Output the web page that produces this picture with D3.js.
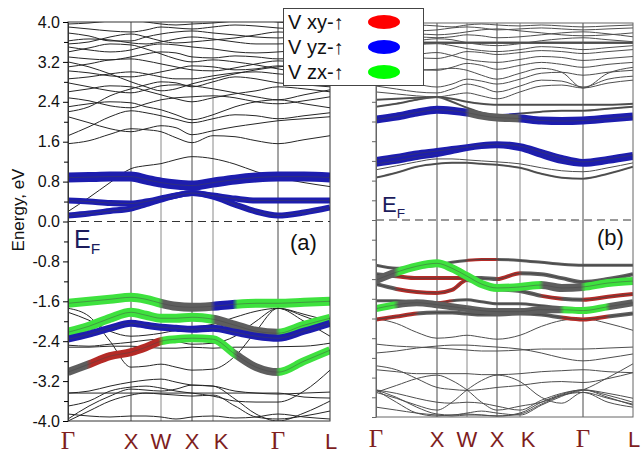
<!DOCTYPE html>
<html>
<head>
<meta charset="utf-8">
<script src="https://cdn.jsdelivr.net/npm/d3@7"></script>
<style>
body { margin: 0; background: #fff; }
svg { display: block; font-family: "Liberation Sans", Arial, sans-serif; }
</style>
</head>
<body>
<svg id="chart" width="644" height="453"></svg>
<script>
// ---- data ----
var kLabels = ["Γ", "X", "W", "X", "K", "Γ", "L"];
var kNodes = [0, 63, 93, 124, 145, 210, 262];
var kSamples = [0, 21, 42, 63, 78, 93, 108, 124, 145, 167, 188, 210, 236, 262];
var energyTicks = [4.0, 3.2, 2.4, 1.6, 0.8, 0.0, -0.8, -1.6, -2.4, -3.2, -4.0];
var minorTicks = [3.6, 2.8, 2.0, 1.2, 0.4, -0.4, -1.2, -2.0, -2.8, -3.6];
var legendNames = ["V xy-↑", "V yz-↑", "V zx-↑"];
var legendKeys = ["R", "B", "G"];

// panel (a): plain bands
var thinA = [
  [1.56, 1.62, 1.75, 1.86, 1.84, 1.80, 1.68, 1.58, 1.72, 1.70, 1.62, 1.56, 1.64, 1.72],
  [0.20, 0.48, 0.78, 1.06, 1.12, 1.16, 1.24, 1.30, 1.26, 1.15, 1.00, 0.88, 0.78, 0.70],
  [2.10, 1.98, 1.86, 1.80, 1.86, 1.92, 1.88, 1.74, 1.82, 1.90, 1.96, 2.02, 2.06, 2.10],
  [1.72, 1.90, 2.10, 2.22, 2.18, 2.12, 2.05, 1.98, 2.06, 2.14, 2.12, 2.06, 2.12, 2.18],
  [2.30, 2.36, 2.40, 2.38, 2.30, 2.24, 2.14, 2.04, 2.14, 2.30, 2.40, 2.44, 2.36, 2.28],
  [2.48, 2.42, 2.32, 2.28, 2.36, 2.44, 2.48, 2.50, 2.52, 2.48, 2.40, 2.36, 2.42, 2.50],
  [2.60, 2.66, 2.72, 2.70, 2.62, 2.54, 2.46, 2.40, 2.48, 2.56, 2.62, 2.70, 2.66, 2.60],
  [2.78, 2.70, 2.62, 2.58, 2.64, 2.72, 2.74, 2.72, 2.66, 2.58, 2.50, 2.44, 2.54, 2.64],
  [2.86, 2.90, 2.96, 3.00, 2.96, 2.90, 2.86, 2.86, 2.92, 2.98, 3.00, 2.96, 2.92, 2.88],
  [3.02, 2.98, 2.92, 2.90, 2.94, 3.00, 3.06, 3.12, 3.10, 3.04, 3.06, 3.12, 3.08, 3.04],
  [3.10, 3.16, 3.24, 3.26, 3.22, 3.16, 3.10, 3.04, 3.02, 3.08, 3.16, 3.22, 3.18, 3.14],
  [3.30, 3.26, 3.24, 3.30, 3.36, 3.40, 3.38, 3.30, 3.28, 3.32, 3.30, 3.26, 3.30, 3.34],
  [3.50, 3.44, 3.40, 3.44, 3.52, 3.56, 3.54, 3.50, 3.46, 3.40, 3.38, 3.40, 3.44, 3.48],
  [3.62, 3.66, 3.64, 3.58, 3.56, 3.60, 3.66, 3.70, 3.66, 3.60, 3.56, 3.56, 3.60, 3.64],
  [3.78, 3.72, 3.62, 3.62, 3.70, 3.76, 3.80, 3.82, 3.78, 3.74, 3.70, 3.68, 3.72, 3.76],
  [3.90, 3.86, 3.82, 3.80, 3.84, 3.90, 3.88, 3.86, 3.90, 3.94, 3.92, 3.88, 3.86, 3.90],
  [3.96, 3.98, 4.02, 4.04, 4.00, 3.96, 3.94, 3.96, 3.98, 4.02, 4.04, 4.00, 3.96, 3.94],
  [2.20, 2.30, 2.52, 2.66, 2.74, 2.80, 2.78, 2.70, 2.80, 2.90, 2.86, 2.78, 2.74, 2.70],
  [3.20, 3.10, 2.96, 2.80, 2.70, 2.62, 2.66, 2.76, 2.86, 2.96, 3.04, 3.10, 3.14, 3.18],
  [3.56, 3.60, 3.70, 3.76, 3.70, 3.62, 3.58, 3.60, 3.64, 3.68, 3.74, 3.80, 3.76, 3.70],
  [3.40, 3.48, 3.56, 3.54, 3.46, 3.36, 3.26, 3.20, 3.24, 3.20, 3.14, 3.06, 2.98, 2.94],
  [-1.74, -1.90, -2.40, -2.92, -2.90, -2.86, -2.92, -2.98, -2.96, -2.70, -2.20, -1.74, -1.90, -2.10],
  [-2.48, -2.50, -2.46, -2.42, -2.38, -2.36, -2.40, -2.46, -2.44, -2.30, -2.00, -1.74, -2.00, -2.30],
  [-2.52, -2.52, -2.50, -2.50, -2.52, -2.54, -2.54, -2.52, -2.54, -2.52, -2.52, -2.51, -2.50, -2.44],
  [-3.44, -3.40, -3.30, -3.22, -3.18, -3.16, -3.22, -3.28, -3.30, -3.40, -3.44, -3.46, -3.44, -3.42],
  [-3.44, -3.44, -3.44, -3.44, -3.44, -3.44, -3.44, -3.44, -3.44, -3.44, -3.44, -3.44, -3.52, -3.54],
  [-3.96, -3.70, -3.50, -3.36, -3.38, -3.40, -3.36, -3.28, -3.30, -3.56, -3.86, -4.00, -3.84, -3.60],
  [-4.00, -3.80, -3.60, -3.48, -3.44, -3.46, -3.48, -3.50, -3.48, -3.70, -3.92, -3.96, -3.90, -3.80],
  [-3.86, -3.90, -3.92, -3.90, -3.90, -3.92, -3.96, -3.92, -3.90, -3.94, -3.92, -3.86, -3.92, -3.96],
  [-3.70, -3.60, -3.40, -3.32, -3.30, -3.34, -3.40, -3.44, -3.50, -3.60, -3.62, -3.62, -3.40, -2.98],
  [-1.82, -1.98, -2.20, -2.30, -2.28, -2.24, -2.18, -2.12, -2.06, -1.92, -1.80, -1.74, -1.86, -2.00]
];

// panel (a): projected (fat) bands, energies and orbital character per segment
var fatA = [
  [-3.02, -2.86, -2.70, -2.62, -2.52, -2.40, -2.36, -2.34, -2.36, -2.66, -2.92, -3.02, -2.80, -2.58],
  [-2.22, -2.10, -1.94, -1.82, -1.88, -1.94, -1.94, -1.92, -1.96, -2.08, -2.20, -2.24, -2.08, -1.94],
  [-2.36, -2.26, -2.14, -2.04, -2.08, -2.12, -2.14, -2.16, -2.14, -2.22, -2.30, -2.34, -2.20, -2.04],
  [-1.64, -1.60, -1.56, -1.52, -1.56, -1.64, -1.70, -1.72, -1.70, -1.66, -1.64, -1.64, -1.62, -1.60],
  [0.12, 0.16, 0.21, 0.26, 0.35, 0.44, 0.52, 0.57, 0.50, 0.34, 0.20, 0.12, 0.18, 0.28],
  [0.42, 0.40, 0.37, 0.36, 0.40, 0.46, 0.52, 0.57, 0.52, 0.46, 0.42, 0.42, 0.42, 0.42],
  [0.88, 0.89, 0.90, 0.90, 0.84, 0.78, 0.74, 0.72, 0.78, 0.84, 0.88, 0.90, 0.90, 0.88]
];
var fatCharA = ["YRRRRGGGGYYGG", "GGGGGGGGYYYGG", "BBBBBBBBBBBBB", "GGGGGYYYBGGGG",
                "BBBBBBBBBBBBB", "BBBBBBBBBBBBB", "BBBBBBBBBBBBB"];
var fatWeightA = [8, 9, 7, 9, 6, 6, 10];

// panel (b): plain bands
var thinB = [
  [2.60, 2.56, 2.52, 2.50, 2.54, 2.58, 2.52, 2.46, 2.60, 2.72, 2.74, 2.68, 2.78, 2.84],
  [2.72, 2.66, 2.60, 2.58, 2.66, 2.76, 2.70, 2.60, 2.72, 2.84, 2.82, 2.70, 2.86, 2.92],
  [2.90, 2.84, 2.76, 2.70, 2.76, 2.86, 2.82, 2.76, 2.86, 2.98, 3.00, 2.94, 3.00, 3.04],
  [3.00, 3.02, 3.04, 3.06, 3.08, 3.04, 2.94, 2.86, 2.98, 3.08, 3.00, 2.68, 2.98, 3.10],
  [3.16, 3.12, 3.06, 3.04, 3.10, 3.18, 3.14, 3.06, 3.14, 3.20, 3.16, 3.10, 3.16, 3.20],
  [3.26, 3.30, 3.36, 3.40, 3.34, 3.26, 3.22, 3.20, 3.26, 3.32, 3.30, 3.24, 3.28, 3.32],
  [3.40, 3.36, 3.30, 3.28, 3.34, 3.42, 3.40, 3.36, 3.40, 3.44, 3.42, 3.38, 3.42, 3.46],
  [3.50, 3.52, 3.56, 3.58, 3.54, 3.48, 3.44, 3.42, 3.46, 3.52, 3.50, 3.46, 3.50, 3.54],
  [3.62, 3.60, 3.64, 3.68, 3.66, 3.60, 3.56, 3.54, 3.58, 3.64, 3.68, 3.70, 3.66, 3.62],
  [3.68, 3.70, 3.72, 3.70, 3.72, 3.76, 3.74, 3.70, 3.72, 3.76, 3.80, 3.82, 3.78, 3.72],
  [3.76, 3.78, 3.78, 3.76, 3.78, 3.82, 3.86, 3.88, 3.84, 3.80, 3.76, 3.74, 3.76, 3.80],
  [3.84, 3.82, 3.84, 3.86, 3.90, 3.92, 3.90, 3.86, 3.88, 3.90, 3.88, 3.86, 3.88, 3.90],
  [3.92, 3.94, 3.96, 3.94, 3.92, 3.96, 3.98, 3.96, 3.94, 3.96, 3.94, 3.92, 3.94, 3.96],
  [1.02, 1.10, 1.18, 1.24, 1.24, 1.22, 1.20, 1.18, 1.14, 1.06, 1.00, 0.98, 1.06, 1.16],
  [-2.00, -2.10, -2.28, -2.40, -2.38, -2.34, -2.38, -2.42, -2.34, -2.16, -2.04, -2.00, -2.10, -2.24],
  [-2.52, -2.56, -2.58, -2.60, -2.62, -2.64, -2.66, -2.66, -2.64, -2.62, -2.62, -2.62, -2.60, -2.58],
  [-2.70, -2.66, -2.60, -2.56, -2.54, -2.54, -2.56, -2.58, -2.62, -2.70, -2.80, -2.86, -2.80, -2.72],
  [-3.04, -3.08, -3.12, -3.12, -3.12, -3.12, -3.14, -3.14, -3.12, -3.08, -3.06, -3.04, -3.08, -3.10],
  [-3.50, -3.62, -3.76, -3.86, -3.70, -3.45, -3.26, -3.15, -3.28, -3.60, -3.72, -3.50, -3.70, -3.80],
  [-3.50, -3.36, -3.22, -3.15, -3.26, -3.45, -3.70, -3.86, -3.78, -3.70, -3.56, -3.50, -3.62, -3.74],
  [-3.45, -3.70, -3.92, -3.98, -3.96, -3.94, -3.96, -3.98, -3.92, -3.70, -3.54, -3.45, -3.56, -3.70],
  [-3.45, -3.60, -3.80, -3.94, -3.96, -3.92, -3.88, -3.92, -3.96, -3.76, -3.58, -3.45, -3.60, -3.76],
  [-3.45, -3.52, -3.62, -3.70, -3.72, -3.70, -3.72, -3.78, -3.86, -3.66, -3.52, -3.45, -3.52, -3.62],
  [-2.96, -3.04, -3.22, -3.40, -3.44, -3.46, -3.44, -3.40, -3.36, -3.30, -3.28, -3.30, -3.22, -3.10],
  [-3.80, -3.86, -3.92, -3.96, -3.98, -3.96, -3.96, -3.98, -3.94, -3.74, -3.56, -3.45, -3.20, -2.92]
];

// panel (b): projected (fat) bands
var fatB = [
  [3.60, 3.60, 3.60, 3.60, 3.60, 3.60, 3.60, 3.60, 3.60, 3.60, 3.60, 3.60, 3.60, 3.60],
  [2.30, 2.36, 2.44, 2.50, 2.40, 2.28, 2.18, 2.13, 2.16, 2.20, 2.22, 2.22, 2.26, 2.30],
  [2.44, 2.46, 2.48, 2.50, 2.46, 2.40, 2.36, 2.34, 2.34, 2.34, 2.34, 2.34, 2.34, 2.36],
  [2.04, 2.10, 2.18, 2.24, 2.22, 2.18, 2.12, 2.08, 2.06, 2.02, 2.01, 2.02, 2.06, 2.10],
  [0.86, 0.96, 1.08, 1.14, 1.16, 1.16, 1.14, 1.12, 1.06, 0.94, 0.86, 0.84, 0.94, 1.08],
  [1.14, 1.20, 1.28, 1.34, 1.40, 1.46, 1.50, 1.52, 1.46, 1.32, 1.20, 1.14, 1.20, 1.28],
  [1.22, 1.28, 1.35, 1.40, 1.44, 1.48, 1.52, 1.54, 1.50, 1.38, 1.26, 1.18, 1.24, 1.32],
  [-2.02, -1.96, -1.90, -1.88, -1.88, -1.90, -1.92, -1.92, -1.90, -1.92, -1.98, -2.02, -1.96, -1.90],
  [-1.64, -1.64, -1.66, -1.68, -1.64, -1.62, -1.66, -1.70, -1.70, -1.74, -1.78, -1.80, -1.76, -1.70],
  [-1.30, -1.40, -1.46, -1.48, -1.42, -1.22, -1.30, -1.40, -1.44, -1.54, -1.60, -1.62, -1.56, -1.50],
  [-1.10, -1.14, -1.18, -1.18, -1.18, -1.18, -1.18, -1.20, -1.08, -1.10, -1.18, -1.26, -1.20, -1.10],
  [-0.92, -0.98, -0.96, -0.92, -0.86, -0.82, -0.80, -0.80, -0.82, -0.86, -0.90, -0.92, -0.92, -0.92],
  [-1.80, -1.72, -1.68, -1.72, -1.76, -1.80, -1.84, -1.86, -1.86, -1.82, -1.82, -1.84, -1.76, -1.68],
  [-1.22, -1.06, -0.94, -0.88, -0.98, -1.14, -1.30, -1.38, -1.36, -1.32, -1.38, -1.36, -1.28, -1.24]
];
var fatCharB = ["YYYYYYYYYYYYY", "YYYYYYYBYYYYY", "YYYYYYYYYYYYY", "BBBBBYYYBBBBB",
                "YYYYYYYYYYYYY", "BBBBBBBBBBBBB", "BBBBBBBBBBBBB", "RRYYYYYYYYRRY",
                "YYRRYYYYYYYYY", "YRRRRYYYYRYRR", "YRRRRYYRYYYYY", "YYYYYRRYYYYYY",
                "GYYYYYYYYYGGY", "YGGGGGGGGYYGG"];
var fatWeightB = [2.5, 2, 2, 8, 2, 6, 6, 4, 3, 4, 4, 3, 7, 8];

// ---- drawing ----
var charColor = { R: "#b52a26", B: "#1d1dae", G: "#3ee23e", Y: "#5e5e5e" };
var legendColor = { R: "#ff0000", B: "#0000ff", G: "#00ff00" };
var svg = d3.select("#chart");
var defs = svg.append("defs");

function drawPanel(name, xr, top, bottom, thin, fat, chars, weights, thinColor) {
  var x = d3.scaleLinear().domain(kNodes).range(xr);
  var y = d3.scaleLinear().domain([-4, 4]).range([bottom, top]);
  var g = svg.append("g").attr("class", "panel-" + name);

  defs.append("clipPath").attr("id", "clip-" + name)
    .append("rect")
      .attr("x", xr[0]).attr("y", top)
      .attr("width", xr[xr.length - 1] - xr[0]).attr("height", bottom - top);

  // high symmetry lines
  g.selectAll("line.ksym")
    .data(kNodes.slice(1, -1)).enter()
    .append("line")
      .attr("class", "ksym")
      .attr("x1", d => x(d)).attr("x2", d => x(d))
      .attr("y1", top).attr("y2", bottom)
      .attr("stroke", (d, i) => (i == 1 || i == 3) ? "#8a8a8a" : "#4a4a4a")
      .attr("stroke-width", 1);

  var line = d3.line()
    .x((d, i) => x(kSamples[i]))
    .y(d => y(d))
    .curve(d3.curveMonotoneX);

  var plot = g.append("g").attr("clip-path", "url(#clip-" + name + ")");

  plot.selectAll("path.thin")
    .data(thin).enter()
    .append("path")
      .attr("class", "thin")
      .attr("d", line)
      .attr("fill", "none")
      .attr("stroke", thinColor)
      .attr("stroke-width", 1);

  // fat bands coloured per segment through a gradient along k
  var x0 = x(kSamples[0]), x1 = x(kSamples[kSamples.length - 1]);
  var off = k => (x(k) - x0) / (x1 - x0);
  fat.forEach(function(band, b) {
    var id = "grad-" + name + "-" + b;
    var grad = defs.append("linearGradient")
      .attr("id", id)
      .attr("gradientUnits", "userSpaceOnUse")
      .attr("x1", x0).attr("x2", x1).attr("y1", 0).attr("y2", 0);
    for (var s = 0; s < kSamples.length - 1; s++) {
      var c = charColor[chars[b][s]];
      grad.append("stop").attr("offset", Math.min(1, off(kSamples[s]) + 0.01)).attr("stop-color", c);
      grad.append("stop").attr("offset", Math.max(0, off(kSamples[s + 1]) - 0.01)).attr("stop-color", c);
    }
    plot.append("path")
      .attr("d", line(band))
      .attr("fill", "none")
      .attr("stroke", "url(#" + id + ")")
      .attr("stroke-width", weights[b])
      .attr("stroke-linecap", "butt");
    plot.append("path")
      .attr("d", line(band))
      .attr("fill", "none")
      .attr("stroke", "#444")
      .attr("stroke-opacity", weights[b] > 4 ? 0.45 : 0.8)
      .attr("stroke-width", 1);
  });

  // Fermi level
  g.append("line")
    .attr("x1", xr[0]).attr("x2", xr[xr.length - 1])
    .attr("y1", y(0)).attr("y2", y(0))
    .attr("stroke", "#333")
    .attr("stroke-dasharray", "8,5");

  // frame
  g.append("rect")
    .attr("x", xr[0]).attr("y", top)
    .attr("width", xr[xr.length - 1] - xr[0]).attr("height", bottom - top)
    .attr("fill", "none")
    .attr("stroke", name == "a" ? "#333" : "#666")
    .attr("stroke-width", 1);

  // k labels
  g.selectAll("text.klab")
    .data(kNodes).enter()
    .append("text")
      .attr("class", "klab")
      .attr("x", (d, i) => x(d) + (i == 4 ? 8 : (i == 6 ? 1 : 0)))
      .attr("y", name == "a" ? 449 : 447)
      .attr("text-anchor", "middle")
      .attr("fill", "#7e1e1e")
      .style("font-family", (d, i) => kLabels[i] == "Γ" ? "'Liberation Serif', 'Times New Roman', serif" : null)
      .style("font-size", (d, i) => kLabels[i] == "Γ" ? "25px" : "22px")
      .text((d, i) => kLabels[i]);

  return { x: x, y: y, g: g };
}

var pa = drawPanel("a", [68, 131, 161, 192, 213, 278, 330], 22, 421, thinA, fatA, fatCharA, fatWeightA, "#262626");
var pb = drawPanel("b", [376, 437, 467, 497, 520, 583, 633], 23, 417, thinB, fatB, fatCharB, fatWeightB, "#4e4e4e");

// axes
var axA = d3.axisLeft(pa.y).tickValues(energyTicks).tickSize(5).tickSizeOuter(0)
  .tickFormat(d => d.toFixed(1));
var gA = svg.append("g").attr("transform", "translate(68,0)").call(axA);
gA.selectAll("text").style("font-size", "16px").attr("fill", "#111").attr("x", -8);
gA.select(".domain").attr("stroke", "#333");
svg.append("g").attr("transform", "translate(68,0)")
  .call(d3.axisLeft(pa.y).tickValues(minorTicks).tickSize(4).tickFormat(""))
  .select(".domain").remove();

var gB = svg.append("g").attr("transform", "translate(376,0)")
  .call(d3.axisLeft(pb.y).tickValues(energyTicks.concat(minorTicks)).tickSize(4).tickSizeOuter(0).tickFormat(""));
gB.selectAll("line").attr("stroke", "#666");
gB.select(".domain").attr("stroke", "#666");

svg.append("text")
  .attr("transform", "translate(24,210) rotate(-90)")
  .attr("text-anchor", "middle")
  .style("font-size", "17px")
  .attr("fill", "#111")
  .text("Energy, eV");

// Fermi labels and panel tags
function fermi(xp, yp, size) {
  var t = svg.append("text").attr("x", xp).attr("y", yp)
    .attr("fill", "#1c1c5c").style("font-size", size + "px").text("E");
  t.append("tspan").attr("dy", size * 0.25).style("font-size", (size * 0.62) + "px").text("F");
}
fermi(74, 248, 25);
fermi(382, 212, 22);
svg.append("text").attr("x", 290).attr("y", 250).style("font-size", "22px").attr("fill", "#111").text("(a)");
svg.append("text").attr("x", 597).attr("y", 245).style("font-size", "22px").attr("fill", "#111").text("(b)");

// legend
var leg = svg.append("g");
leg.append("rect")
  .attr("x", 283.5).attr("y", 8.5).attr("width", 140).attr("height", 77)
  .attr("fill", "#fff").attr("stroke", "#444");
var rows = leg.selectAll("g.row")
  .data(legendNames).enter()
  .append("g")
    .attr("class", "row")
    .attr("transform", (d, i) => "translate(0," + (22 + i * 25) + ")");
rows.append("text")
  .attr("x", 288).attr("y", 7)
  .style("font-size", "20px")
  .attr("fill", "#111")
  .text(d => d);
rows.append("ellipse")
  .attr("cx", 384).attr("cy", 0).attr("rx", 16).attr("ry", 7)
  .attr("fill", (d, i) => legendColor[legendKeys[i]]);
</script>
</body>
</html>
